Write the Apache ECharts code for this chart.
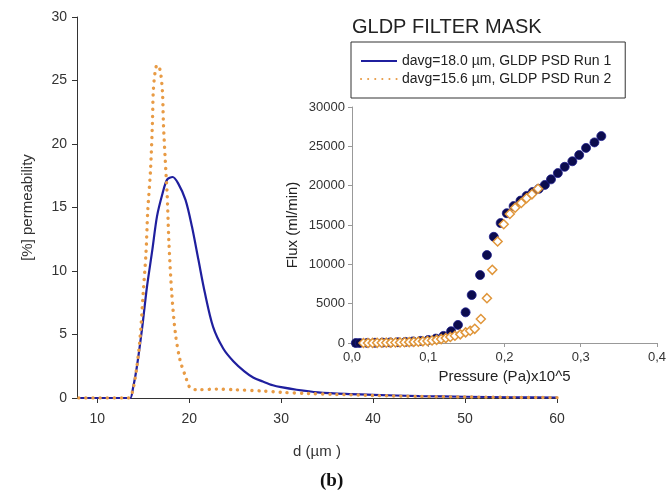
<!DOCTYPE html>
<html>
<head>
<meta charset="utf-8">
<script src="https://cdn.jsdelivr.net/npm/echarts@6/dist/echarts.min.js"></script>
<style>
html,body{margin:0;padding:0;background:#fff;}
#c{width:669px;height:493px;}
</style>
</head>
<body>
<div id="c"></div>
<script>
// Main chart: particle size distribution (d in µm vs % permeability)
var run1D = [8, 13.2, 13.6, 13.9, 14.3, 14.9, 15.4, 16.0, 16.5, 17.1, 17.6, 18.2, 18.8, 19.6, 20.3, 21.0, 21.7, 22.6, 23.7, 24.8, 26.0, 27.0, 28.0, 29.1, 30.0, 31.7, 34, 37, 40, 45, 50, 55, 60];
var run1P = [0, 0, 0, 0.8, 2.4, 5.6, 8.7, 11.7, 14.3, 16.1, 17.2, 17.4, 16.9, 15.6, 13.5, 10.9, 8.3, 5.6, 3.9, 2.9, 2.1, 1.6, 1.3, 1.0, 0.85, 0.65, 0.45, 0.32, 0.25, 0.15, 0.1, 0.06, 0.04];
var run2D = [8, 13.4, 13.8, 14.3, 14.7, 15.0, 15.3, 15.5, 15.8, 16.0, 16.1, 16.3, 16.5, 16.7, 16.9, 17.1, 17.2, 17.4, 17.6, 17.8, 18.1, 18.5, 19.0, 19.6, 20.1, 20.9, 23, 25, 28, 30, 33, 36, 40, 45, 50, 55, 60];
var run2P = [0, 0, 0.4, 2.4, 5.1, 8.3, 11.4, 14.8, 18.0, 21.6, 24.2, 25.7, 26.2, 26.1, 25.6, 24.0, 21.6, 18.7, 16.1, 12.2, 8.3, 5.1, 3.0, 1.7, 0.8, 0.65, 0.7, 0.65, 0.55, 0.45, 0.35, 0.28, 0.2, 0.12, 0.08, 0.05, 0.03];

// Inset: flux vs pressure
var fluxP1 = [0.005, 0.010, 0.020, 0.030, 0.040, 0.050, 0.060, 0.070, 0.080, 0.090, 0.100, 0.110, 0.120, 0.130, 0.139, 0.149, 0.157, 0.168, 0.177, 0.186, 0.195, 0.203, 0.212, 0.221, 0.229, 0.237, 0.245, 0.253, 0.261, 0.270, 0.279, 0.289, 0.298, 0.307, 0.318, 0.327];
var fluxF1 = [0, 0, 10, 30, 50, 70, 100, 140, 200, 270, 380, 560, 900, 1500, 2300, 3900, 6100, 8640, 11180, 13500, 15250, 16500, 17400, 18100, 18700, 19200, 19600, 20100, 20800, 21600, 22400, 23100, 23900, 24800, 25500, 26300];
var fluxP2 = [0.015, 0.021, 0.027, 0.033, 0.039, 0.045, 0.051, 0.057, 0.063, 0.069, 0.075, 0.081, 0.087, 0.093, 0.099, 0.105, 0.111, 0.117, 0.123, 0.129, 0.135, 0.142, 0.149, 0.155, 0.161, 0.169, 0.177, 0.184, 0.191, 0.199, 0.207, 0.214, 0.222, 0.229, 0.236, 0.244];
var fluxF2 = [0, 5, 10, 20, 30, 40, 50, 60, 75, 90, 110, 140, 170, 210, 260, 320, 400, 500, 620, 760, 920, 1100, 1350, 1550, 1800, 3050, 5700, 9300, 12900, 15100, 16400, 17200, 17800, 18400, 18900, 19600];

var xTicksMain = [10, 20, 30, 40, 50, 60];
var legendNames = ['davg=18.0 µm, GLDP PSD Run 1', 'davg=15.6 µm, GLDP PSD Run 2'];

function zip(a, b) { return a.map(function (v, i) { return [v, b[i]]; }); }

var BLUE = '#1f1f9e';
var ORANGE = '#e89b45';
var FONT = 'Liberation Sans, Arial, sans-serif';

var chart = echarts.init(document.getElementById('c'), null, {renderer: 'canvas'});
chart.setOption({
  animation: false,
  backgroundColor: '#fff',
  textStyle: {fontFamily: FONT},
  title: {
    text: 'GLDP FILTER MASK',
    left: 347, top: 12,
    textStyle: {fontFamily: FONT, fontSize: 20, fontWeight: 'normal', color: '#222'}
  },
  legend: {
    left: 351, top: 42,
    orient: 'vertical',
    borderColor: '#333', borderWidth: 1,
    padding: [12, 14, 12, 9],
    itemGap: 4, itemWidth: 36, itemHeight: 12,
    itemStyle: {opacity: 0},
    textStyle: {fontFamily: FONT, fontSize: 14, color: '#222'},
    data: legendNames
  },
  grid: [
    {left: 77, top: 17, width: 480, height: 381},
    {left: 352, top: 107, width: 308, height: 236}
  ],
  xAxis: [
    {
      type: 'value', gridIndex: 0, min: 7.8, max: 60,
      name: 'd (µm )', nameLocation: 'middle', nameGap: 46,
      nameTextStyle: {fontFamily: FONT, fontSize: 15, color: '#333'},
      axisLine: {lineStyle: {color: '#333'}},
      axisTick: {show: true, customValues: xTicksMain, length: 5, lineStyle: {color: '#333'}},
      axisLabel: {customValues: xTicksMain, fontSize: 14, color: '#333', margin: 14, fontFamily: FONT},
      splitLine: {show: false}
    },
    {
      type: 'value', gridIndex: 1, min: 0, max: 0.4, interval: 0.1,
      name: 'Pressure (Pa)x10^5', nameLocation: 'middle', nameGap: 26,
      nameTextStyle: {fontFamily: FONT, fontSize: 15, color: '#222'},
      axisLine: {lineStyle: {color: '#999'}},
      axisTick: {length: 4, lineStyle: {color: '#999'}},
      axisLabel: {fontSize: 13, color: '#333', margin: 8, fontFamily: FONT,
        formatter: function (v) { return v.toFixed(1).replace('.', ','); }},
      splitLine: {show: false}
    }
  ],
  yAxis: [
    {
      type: 'value', gridIndex: 0, min: 0, max: 30, interval: 5,
      name: '[%] permeability', nameLocation: 'middle', nameGap: 42,
      nameTextStyle: {fontFamily: FONT, fontSize: 15, color: '#333'},
      axisLine: {show: true, lineStyle: {color: '#333'}},
      axisTick: {show: true, length: 5, lineStyle: {color: '#333'}},
      axisLabel: {fontSize: 14, color: '#333', margin: 10, fontFamily: FONT},
      splitLine: {show: false}
    },
    {
      type: 'value', gridIndex: 1, min: 0, max: 30000, interval: 5000,
      name: 'Flux (ml/min)', nameLocation: 'middle', nameGap: 52,
      nameTextStyle: {fontFamily: FONT, fontSize: 15, color: '#222'},
      axisLine: {show: true, lineStyle: {color: '#999'}},
      axisTick: {show: true, length: 4, lineStyle: {color: '#999'}},
      axisLabel: {fontSize: 13, color: '#333', margin: 7, fontFamily: FONT,
        formatter: function (v) { return String(v); }},
      splitLine: {show: false}
    }
  ],
  series: [
    {
      name: legendNames[0], type: 'line', xAxisIndex: 0, yAxisIndex: 0,
      data: zip(run1D, run1P), symbol: 'none', smooth: 0.3,
      lineStyle: {color: BLUE, width: 2.2},
      itemStyle: {color: BLUE}, z: 2
    },
    {
      name: legendNames[1], type: 'line', xAxisIndex: 0, yAxisIndex: 0,
      data: zip(run2D, run2P), symbol: 'none', smooth: 0.3,
      lineStyle: {color: ORANGE, width: 3.4, type: [0.1, 7], cap: 'round'},
      itemStyle: {color: ORANGE}, z: 3
    },
    {
      type: 'scatter', xAxisIndex: 1, yAxisIndex: 1,
      data: zip(fluxP1, fluxF1), symbol: 'circle', symbolSize: 9,
      itemStyle: {color: '#0c0c4e', borderColor: '#1b1b8a', borderWidth: 0.8, opacity: 1}, z: 4
    },
    {
      type: 'scatter', xAxisIndex: 1, yAxisIndex: 1,
      data: zip(fluxP2, fluxF2), symbol: 'diamond', symbolSize: 9,
      itemStyle: {color: '#fff', borderColor: '#e0963a', borderWidth: 1.5, opacity: 1}, z: 5
    }
  ],
  graphic: [
    {
      type: 'text', left: 320, top: 472,
      style: {text: '(b)', fontFamily: 'Liberation Serif, Times New Roman, serif', fontSize: 19, fontWeight: 'bold', fill: '#111'}
    }
  ]
});
</script>
</body>
</html>
